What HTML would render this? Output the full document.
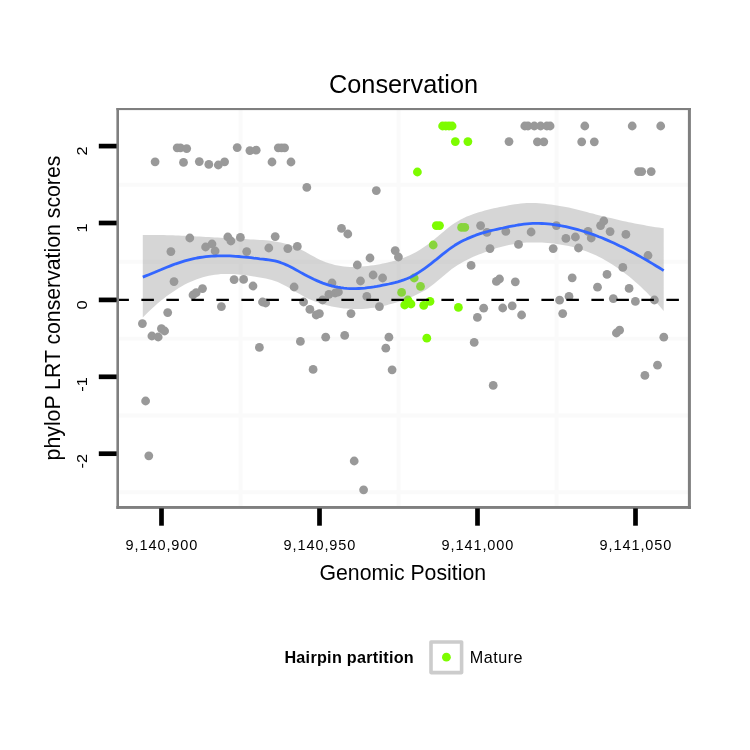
<!DOCTYPE html>
<html><head><meta charset="utf-8"><title>Conservation</title>
<style>
html,body{margin:0;padding:0;background:#fff;}
body{width:750px;height:750px;overflow:hidden;}
svg{display:block;}
text{font-family:"Liberation Sans",sans-serif;fill:#000;}
.ax{font-size:14.5px;letter-spacing:0.9px;}
.ay{font-size:14.6px;}
.lab{font-size:21.25px;}
.ttl{font-size:25.3px;}
.leg{font-size:16.2px;letter-spacing:0.5px;}
.legt{font-size:16.2px;font-weight:bold;letter-spacing:0.27px;}
</style></head><body>
<svg width="750" height="750" viewBox="0 0 750 750">
<rect x="0" y="0" width="750" height="750" fill="#ffffff"/>

<g stroke="#fafafa" stroke-width="3.9" fill="none">
<line x1="118" x2="689" y1="184.8" y2="184.8"/>
<line x1="118" x2="689" y1="261.7" y2="261.7"/>
<line x1="118" x2="689" y1="338.6" y2="338.6"/>
<line x1="118" x2="689" y1="415.5" y2="415.5"/>
<line x1="118" x2="689" y1="492.2" y2="492.2"/>
<line y1="109" y2="507" x1="240.6" x2="240.6"/>
<line y1="109" y2="507" x1="398.6" x2="398.6"/>
<line y1="109" y2="507" x1="556.6" x2="556.6"/>
</g>
<g fill="#999999">
<circle cx="142.4" cy="323.6" r="4.4"/>
<circle cx="145.6" cy="401.0" r="4.4"/>
<circle cx="148.8" cy="455.8" r="4.4"/>
<circle cx="151.9" cy="336.0" r="4.4"/>
<circle cx="155.1" cy="161.8" r="4.4"/>
<circle cx="158.2" cy="337.0" r="4.4"/>
<circle cx="161.4" cy="328.6" r="4.4"/>
<circle cx="164.6" cy="331.0" r="4.4"/>
<circle cx="167.7" cy="312.6" r="4.4"/>
<circle cx="170.9" cy="251.6" r="4.4"/>
<circle cx="174.0" cy="281.6" r="4.4"/>
<circle cx="177.2" cy="147.8" r="4.4"/>
<circle cx="180.4" cy="147.8" r="4.4"/>
<circle cx="183.5" cy="162.4" r="4.4"/>
<circle cx="186.7" cy="148.6" r="4.4"/>
<circle cx="189.8" cy="238.0" r="4.4"/>
<circle cx="193.0" cy="295.0" r="4.4"/>
<circle cx="196.2" cy="292.6" r="4.4"/>
<circle cx="199.3" cy="161.6" r="4.4"/>
<circle cx="202.5" cy="288.6" r="4.4"/>
<circle cx="205.6" cy="247.0" r="4.4"/>
<circle cx="208.8" cy="164.4" r="4.4"/>
<circle cx="212.0" cy="244.0" r="4.4"/>
<circle cx="215.1" cy="251.0" r="4.4"/>
<circle cx="218.3" cy="165.0" r="4.4"/>
<circle cx="221.4" cy="306.6" r="4.4"/>
<circle cx="224.6" cy="161.8" r="4.4"/>
<circle cx="227.8" cy="237.0" r="4.4"/>
<circle cx="230.9" cy="241.0" r="4.4"/>
<circle cx="234.1" cy="279.6" r="4.4"/>
<circle cx="237.2" cy="147.6" r="4.4"/>
<circle cx="240.4" cy="237.4" r="4.4"/>
<circle cx="243.6" cy="279.4" r="4.4"/>
<circle cx="246.7" cy="251.6" r="4.4"/>
<circle cx="249.9" cy="150.6" r="4.4"/>
<circle cx="253.0" cy="286.0" r="4.4"/>
<circle cx="256.2" cy="150.2" r="4.4"/>
<circle cx="259.4" cy="347.4" r="4.4"/>
<circle cx="262.5" cy="302.0" r="4.4"/>
<circle cx="265.7" cy="303.0" r="4.4"/>
<circle cx="268.8" cy="248.0" r="4.4"/>
<circle cx="272.0" cy="162.0" r="4.4"/>
<circle cx="275.2" cy="236.6" r="4.4"/>
<circle cx="278.3" cy="147.8" r="4.4"/>
<circle cx="281.5" cy="147.8" r="4.4"/>
<circle cx="284.6" cy="147.8" r="4.4"/>
<circle cx="287.8" cy="248.6" r="4.4"/>
<circle cx="291.0" cy="162.0" r="4.4"/>
<circle cx="294.1" cy="287.0" r="4.4"/>
<circle cx="297.3" cy="246.4" r="4.4"/>
<circle cx="300.4" cy="341.4" r="4.4"/>
<circle cx="303.6" cy="302.0" r="4.4"/>
<circle cx="306.8" cy="187.4" r="4.4"/>
<circle cx="309.9" cy="309.4" r="4.4"/>
<circle cx="313.1" cy="369.4" r="4.4"/>
<circle cx="316.2" cy="315.0" r="4.4"/>
<circle cx="319.4" cy="313.6" r="4.4"/>
<circle cx="322.6" cy="300.0" r="4.4"/>
<circle cx="325.7" cy="337.2" r="4.4"/>
<circle cx="328.9" cy="294.4" r="4.4"/>
<circle cx="332.0" cy="283.0" r="4.4"/>
<circle cx="335.2" cy="293.0" r="4.4"/>
<circle cx="338.4" cy="292.0" r="4.4"/>
<circle cx="341.5" cy="228.4" r="4.4"/>
<circle cx="344.7" cy="335.4" r="4.4"/>
<circle cx="347.8" cy="234.0" r="4.4"/>
<circle cx="351.0" cy="313.6" r="4.4"/>
<circle cx="354.2" cy="461.0" r="4.4"/>
<circle cx="357.3" cy="265.0" r="4.4"/>
<circle cx="360.5" cy="281.0" r="4.4"/>
<circle cx="363.6" cy="489.8" r="4.4"/>
<circle cx="366.8" cy="296.4" r="4.4"/>
<circle cx="370.0" cy="258.0" r="4.4"/>
<circle cx="373.1" cy="275.0" r="4.4"/>
<circle cx="376.3" cy="190.6" r="4.4"/>
<circle cx="379.4" cy="306.6" r="4.4"/>
<circle cx="382.6" cy="278.0" r="4.4"/>
<circle cx="385.8" cy="348.2" r="4.4"/>
<circle cx="388.9" cy="337.2" r="4.4"/>
<circle cx="392.1" cy="369.8" r="4.4"/>
<circle cx="395.2" cy="250.6" r="4.4"/>
<circle cx="398.4" cy="257.0" r="4.4"/>
<circle cx="471.1" cy="265.4" r="4.4"/>
<circle cx="474.2" cy="342.4" r="4.4"/>
<circle cx="477.4" cy="317.4" r="4.4"/>
<circle cx="480.6" cy="225.6" r="4.4"/>
<circle cx="483.7" cy="308.2" r="4.4"/>
<circle cx="486.9" cy="232.4" r="4.4"/>
<circle cx="490.0" cy="248.6" r="4.4"/>
<circle cx="493.2" cy="385.4" r="4.4"/>
<circle cx="496.4" cy="281.4" r="4.4"/>
<circle cx="499.5" cy="279.0" r="4.4"/>
<circle cx="502.7" cy="308.0" r="4.4"/>
<circle cx="505.8" cy="231.4" r="4.4"/>
<circle cx="509.0" cy="141.6" r="4.4"/>
<circle cx="512.2" cy="305.8" r="4.4"/>
<circle cx="515.3" cy="281.8" r="4.4"/>
<circle cx="518.5" cy="244.4" r="4.4"/>
<circle cx="521.6" cy="315.0" r="4.4"/>
<circle cx="524.8" cy="126.0" r="4.4"/>
<circle cx="528.0" cy="126.0" r="4.4"/>
<circle cx="531.1" cy="232.0" r="4.4"/>
<circle cx="534.3" cy="126.0" r="4.4"/>
<circle cx="537.4" cy="141.8" r="4.4"/>
<circle cx="540.6" cy="126.0" r="4.4"/>
<circle cx="543.8" cy="141.8" r="4.4"/>
<circle cx="546.9" cy="126.0" r="4.4"/>
<circle cx="550.1" cy="126.0" r="4.4"/>
<circle cx="553.2" cy="248.6" r="4.4"/>
<circle cx="556.4" cy="225.6" r="4.4"/>
<circle cx="559.6" cy="300.2" r="4.4"/>
<circle cx="562.7" cy="313.6" r="4.4"/>
<circle cx="565.9" cy="238.4" r="4.4"/>
<circle cx="569.0" cy="296.4" r="4.4"/>
<circle cx="572.2" cy="277.8" r="4.4"/>
<circle cx="575.4" cy="237.0" r="4.4"/>
<circle cx="578.5" cy="248.0" r="4.4"/>
<circle cx="581.7" cy="141.8" r="4.4"/>
<circle cx="584.8" cy="126.0" r="4.4"/>
<circle cx="588.0" cy="231.4" r="4.4"/>
<circle cx="591.2" cy="238.0" r="4.4"/>
<circle cx="594.3" cy="141.8" r="4.4"/>
<circle cx="597.5" cy="287.2" r="4.4"/>
<circle cx="600.6" cy="225.6" r="4.4"/>
<circle cx="603.8" cy="221.0" r="4.4"/>
<circle cx="607.0" cy="274.4" r="4.4"/>
<circle cx="610.1" cy="231.6" r="4.4"/>
<circle cx="613.3" cy="298.6" r="4.4"/>
<circle cx="616.4" cy="333.0" r="4.4"/>
<circle cx="619.6" cy="330.2" r="4.4"/>
<circle cx="622.8" cy="267.4" r="4.4"/>
<circle cx="625.9" cy="234.4" r="4.4"/>
<circle cx="629.1" cy="288.4" r="4.4"/>
<circle cx="632.2" cy="126.0" r="4.4"/>
<circle cx="635.4" cy="301.4" r="4.4"/>
<circle cx="638.6" cy="171.6" r="4.4"/>
<circle cx="641.7" cy="171.6" r="4.4"/>
<circle cx="644.9" cy="375.4" r="4.4"/>
<circle cx="648.0" cy="255.5" r="4.4"/>
<circle cx="651.2" cy="171.6" r="4.4"/>
<circle cx="654.4" cy="300.0" r="4.4"/>
<circle cx="657.5" cy="365.2" r="4.4"/>
<circle cx="660.7" cy="126.0" r="4.4"/>
<circle cx="663.8" cy="337.2" r="4.4"/>
</g><g fill="#7dfc00">
<circle cx="401.6" cy="292.4" r="4.4"/>
<circle cx="404.7" cy="305.0" r="4.4"/>
<circle cx="407.9" cy="300.0" r="4.4"/>
<circle cx="411.0" cy="304.0" r="4.4"/>
<circle cx="414.2" cy="278.0" r="4.4"/>
<circle cx="417.4" cy="172.0" r="4.4"/>
<circle cx="420.5" cy="286.4" r="4.4"/>
<circle cx="423.7" cy="305.4" r="4.4"/>
<circle cx="426.8" cy="338.2" r="4.4"/>
<circle cx="430.0" cy="301.4" r="4.4"/>
<circle cx="433.2" cy="245.0" r="4.4"/>
<circle cx="436.3" cy="225.6" r="4.4"/>
<circle cx="439.5" cy="225.6" r="4.4"/>
<circle cx="442.6" cy="126.0" r="4.4"/>
<circle cx="445.8" cy="126.0" r="4.4"/>
<circle cx="449.0" cy="126.0" r="4.4"/>
<circle cx="452.1" cy="126.0" r="4.4"/>
<circle cx="455.3" cy="141.6" r="4.4"/>
<circle cx="458.4" cy="307.4" r="4.4"/>
<circle cx="461.6" cy="227.4" r="4.4"/>
<circle cx="464.8" cy="227.4" r="4.4"/>
<circle cx="467.9" cy="141.6" r="4.4"/>
</g>
<path d="M142.8 235.0 L145.8 235.0 L148.8 235.0 L151.8 235.0 L154.8 235.0 L157.8 235.0 L160.8 235.1 L163.8 235.1 L166.8 235.2 L169.8 235.3 L172.8 235.3 L175.8 235.4 L178.8 235.6 L181.8 235.7 L184.8 235.8 L187.8 235.9 L190.8 236.1 L193.8 236.2 L196.8 236.4 L199.8 236.5 L202.8 236.7 L205.8 236.9 L208.8 237.0 L211.8 237.2 L214.8 237.4 L217.8 237.5 L220.8 237.7 L223.8 237.9 L226.8 238.1 L229.8 238.2 L232.8 238.4 L235.8 238.6 L238.8 238.8 L241.8 238.9 L244.8 239.1 L247.8 239.2 L250.8 239.4 L253.8 239.5 L256.8 239.7 L259.8 239.9 L262.8 240.1 L265.8 240.3 L268.8 240.6 L271.8 241.0 L274.8 241.4 L277.8 241.9 L280.8 242.5 L283.8 243.2 L286.8 244.0 L289.8 244.9 L292.8 246.0 L295.8 247.2 L298.8 248.6 L301.8 250.1 L304.8 251.6 L307.8 253.3 L310.8 254.9 L313.8 256.6 L316.8 258.2 L319.8 259.7 L322.8 261.0 L325.8 262.2 L328.8 263.2 L331.8 264.1 L334.8 264.9 L337.8 265.6 L340.8 266.1 L343.8 266.5 L346.8 266.7 L349.8 266.9 L352.8 266.9 L355.8 266.9 L358.8 266.8 L361.8 266.6 L364.8 266.3 L367.8 266.0 L370.8 265.6 L373.8 265.2 L376.8 264.7 L379.8 264.2 L382.8 263.6 L385.8 263.0 L388.8 262.3 L391.8 261.5 L394.8 260.7 L397.8 259.8 L400.8 258.8 L403.8 257.7 L406.8 256.5 L409.8 255.2 L412.8 253.7 L415.8 252.2 L418.8 250.5 L421.8 248.6 L424.8 246.6 L427.8 244.5 L430.8 242.2 L433.8 239.7 L436.8 237.2 L439.8 234.7 L442.8 232.2 L445.8 229.7 L448.8 227.3 L451.8 225.1 L454.8 223.1 L457.8 221.2 L460.8 219.5 L463.8 218.0 L466.8 216.6 L469.8 215.4 L472.8 214.3 L475.8 213.2 L478.8 212.3 L481.8 211.4 L484.8 210.5 L487.8 209.8 L490.8 209.0 L493.8 208.3 L496.8 207.7 L499.8 207.1 L502.8 206.5 L505.8 205.9 L508.8 205.3 L511.8 204.8 L514.8 204.3 L517.8 203.9 L520.8 203.5 L523.8 203.2 L526.8 203.0 L529.8 203.0 L532.8 203.0 L535.8 203.1 L538.8 203.3 L541.8 203.5 L544.8 203.8 L547.8 204.2 L550.8 204.6 L553.8 205.0 L556.8 205.4 L559.8 205.9 L562.8 206.4 L565.8 207.0 L568.8 207.6 L571.8 208.3 L574.8 209.0 L577.8 209.8 L580.8 210.6 L583.8 211.3 L586.8 212.1 L589.8 212.9 L592.8 213.6 L595.8 214.4 L598.8 215.2 L601.8 215.9 L604.8 216.6 L607.8 217.4 L610.8 218.1 L613.8 218.8 L616.8 219.5 L619.8 220.2 L622.8 220.9 L625.8 221.5 L628.8 222.2 L631.8 222.8 L634.8 223.4 L637.8 224.0 L640.8 224.6 L643.8 225.1 L646.8 225.7 L649.8 226.2 L652.8 226.7 L655.8 227.2 L658.8 227.6 L661.8 228.0 L663.7 228.3 L663.7 310.9 L661.8 308.7 L658.8 305.3 L655.8 302.0 L652.8 298.8 L649.8 295.7 L646.8 292.6 L643.8 289.7 L640.8 286.8 L637.8 284.1 L634.8 281.4 L631.8 278.8 L628.8 276.3 L625.8 274.0 L622.8 271.7 L619.8 269.5 L616.8 267.4 L613.8 265.4 L610.8 263.5 L607.8 261.7 L604.8 259.9 L601.8 258.3 L598.8 256.8 L595.8 255.3 L592.8 254.0 L589.8 252.7 L586.8 251.5 L583.8 250.4 L580.8 249.4 L577.8 248.5 L574.8 247.6 L571.8 246.8 L568.8 246.1 L565.8 245.5 L562.8 244.9 L559.8 244.4 L556.8 243.9 L553.8 243.5 L550.8 243.2 L547.8 242.9 L544.8 242.7 L541.8 242.6 L538.8 242.5 L535.8 242.4 L532.8 242.4 L529.8 242.5 L526.8 242.6 L523.8 242.8 L520.8 243.1 L517.8 243.4 L514.8 243.9 L511.8 244.4 L508.8 245.0 L505.8 245.7 L502.8 246.4 L499.8 247.2 L496.8 248.1 L493.8 249.1 L490.8 250.1 L487.8 251.2 L484.8 252.3 L481.8 253.4 L478.8 254.6 L475.8 255.8 L472.8 257.1 L469.8 258.5 L466.8 259.9 L463.8 261.5 L460.8 263.2 L457.8 265.0 L454.8 267.0 L451.8 269.1 L448.8 271.4 L445.8 273.9 L442.8 276.4 L439.8 278.9 L436.8 281.5 L433.8 283.9 L430.8 286.2 L427.8 288.4 L424.8 290.4 L421.8 292.1 L418.8 293.6 L415.8 295.0 L412.8 296.4 L409.8 297.6 L406.8 298.8 L403.8 299.9 L400.8 301.0 L397.8 302.0 L394.8 303.0 L391.8 303.8 L388.8 304.6 L385.8 305.4 L382.8 306.1 L379.8 306.7 L376.8 307.2 L373.8 307.7 L370.8 308.1 L367.8 308.4 L364.8 308.7 L361.8 308.9 L358.8 309.0 L355.8 309.0 L352.8 309.0 L349.8 308.8 L346.8 308.6 L343.8 308.4 L340.8 308.0 L337.8 307.6 L334.8 307.0 L331.8 306.4 L328.8 305.7 L325.8 305.0 L322.8 304.1 L319.8 303.2 L316.8 302.1 L313.8 301.0 L310.8 299.7 L307.8 298.4 L304.8 296.9 L301.8 295.3 L298.8 293.6 L295.8 291.9 L292.8 290.1 L289.8 288.3 L286.8 286.6 L283.8 285.0 L280.8 283.5 L277.8 282.1 L274.8 281.0 L271.8 280.1 L268.8 279.3 L265.8 278.6 L262.8 278.0 L259.8 277.5 L256.8 276.9 L253.8 276.4 L250.8 276.0 L247.8 275.5 L244.8 275.1 L241.8 274.8 L238.8 274.5 L235.8 274.2 L232.8 274.1 L229.8 274.0 L226.8 273.9 L223.8 274.0 L220.8 274.1 L217.8 274.4 L214.8 274.7 L211.8 275.2 L208.8 275.7 L205.8 276.4 L202.8 277.3 L199.8 278.2 L196.8 279.2 L193.8 280.4 L190.8 281.7 L187.8 283.1 L184.8 284.6 L181.8 286.3 L178.8 288.0 L175.8 289.9 L172.8 291.9 L169.8 293.9 L166.8 296.1 L163.8 298.4 L160.8 300.8 L157.8 303.3 L154.8 306.0 L151.8 308.7 L148.8 311.5 L145.8 314.5 L142.8 317.5 Z" fill="#999999" fill-opacity="0.4" stroke="none"/>
<path d="M142.8 277.1 L145.8 275.9 L148.8 274.7 L151.8 273.5 L154.8 272.3 L157.8 271.0 L160.8 269.8 L163.8 268.5 L166.8 267.3 L169.8 266.1 L172.8 264.9 L175.8 263.8 L178.8 262.8 L181.8 261.8 L184.8 260.9 L187.8 260.1 L190.8 259.3 L193.8 258.6 L196.8 258.0 L199.8 257.5 L202.8 257.1 L205.8 256.7 L208.8 256.4 L211.8 256.1 L214.8 256.0 L217.8 255.8 L220.8 255.8 L223.8 255.8 L226.8 255.8 L229.8 255.9 L232.8 256.1 L235.8 256.3 L238.8 256.5 L241.8 256.8 L244.8 257.1 L247.8 257.4 L250.8 257.7 L253.8 258.1 L256.8 258.4 L259.8 258.8 L262.8 259.1 L265.8 259.5 L268.8 259.9 L271.8 260.4 L274.8 260.9 L277.8 261.7 L280.8 262.7 L283.8 263.8 L286.8 265.1 L289.8 266.5 L292.8 268.1 L295.8 269.7 L298.8 271.4 L301.8 273.1 L304.8 274.7 L307.8 276.3 L310.8 277.8 L313.8 279.3 L316.8 280.6 L319.8 281.9 L322.8 283.1 L325.8 284.1 L328.8 285.1 L331.8 285.9 L334.8 286.6 L337.8 287.2 L340.8 287.7 L343.8 288.1 L346.8 288.4 L349.8 288.6 L352.8 288.7 L355.8 288.7 L358.8 288.5 L361.8 288.3 L364.8 288.1 L367.8 287.7 L370.8 287.3 L373.8 286.9 L376.8 286.4 L379.8 285.8 L382.8 285.2 L385.8 284.6 L388.8 284.0 L391.8 283.3 L394.8 282.6 L397.8 281.8 L400.8 280.9 L403.8 279.9 L406.8 278.8 L409.8 277.5 L412.8 275.9 L415.8 274.3 L418.8 272.4 L421.8 270.4 L424.8 268.3 L427.8 266.1 L430.8 263.8 L433.8 261.4 L436.8 259.1 L439.8 256.6 L442.8 254.2 L445.8 251.8 L448.8 249.5 L451.8 247.3 L454.8 245.3 L457.8 243.5 L460.8 241.8 L463.8 240.3 L466.8 238.9 L469.8 237.6 L472.8 236.4 L475.8 235.2 L478.8 234.2 L481.8 233.2 L484.8 232.3 L487.8 231.5 L490.8 230.7 L493.8 230.0 L496.8 229.3 L499.8 228.6 L502.8 228.0 L505.8 227.3 L508.8 226.7 L511.8 226.1 L514.8 225.6 L517.8 225.0 L520.8 224.6 L523.8 224.2 L526.8 223.8 L529.8 223.6 L532.8 223.4 L535.8 223.4 L538.8 223.4 L541.8 223.5 L544.8 223.7 L547.8 223.9 L550.8 224.2 L553.8 224.6 L556.8 225.0 L559.8 225.5 L562.8 226.1 L565.8 226.7 L568.8 227.4 L571.8 228.1 L574.8 228.8 L577.8 229.6 L580.8 230.5 L583.8 231.4 L586.8 232.4 L589.8 233.4 L592.8 234.4 L595.8 235.5 L598.8 236.7 L601.8 237.8 L604.8 239.1 L607.8 240.4 L610.8 241.7 L613.8 243.0 L616.8 244.4 L619.8 245.9 L622.8 247.3 L625.8 248.8 L628.8 250.4 L631.8 252.0 L634.8 253.6 L637.8 255.2 L640.8 256.9 L643.8 258.6 L646.8 260.3 L649.8 262.1 L652.8 263.9 L655.8 265.7 L658.8 267.5 L661.8 269.4 L663.7 270.6" fill="none" stroke="#3366ff" stroke-width="2.8" stroke-linejoin="round"/>
<line x1="116.4" x2="689" y1="299.8" y2="299.8" stroke="#000" stroke-width="2.2" stroke-dasharray="12.5 12.5"/>
<g fill="#7f7f7f"><rect x="116.4" y="108" width="2.6" height="400.9"/><rect x="116.4" y="108" width="574.5" height="2.1"/><rect x="687.9" y="108" width="3" height="400.9"/><rect x="116.4" y="506" width="574.5" height="2.9"/></g>
<g stroke="#000" stroke-width="4.7">
<line x1="161.5" x2="161.5" y1="508.4" y2="525.7"/>
<line x1="319.5" x2="319.5" y1="508.4" y2="525.7"/>
<line x1="477.5" x2="477.5" y1="508.4" y2="525.7"/>
<line x1="635.5" x2="635.5" y1="508.4" y2="525.7"/>
<line x1="98.8" x2="116.6" y1="146.1" y2="146.1"/>
<line x1="98.8" x2="116.6" y1="223.0" y2="223.0"/>
<line x1="98.8" x2="116.6" y1="299.9" y2="299.9"/>
<line x1="98.8" x2="116.6" y1="376.8" y2="376.8"/>
<line x1="98.8" x2="116.6" y1="453.7" y2="453.7"/>
</g>
<text class="ax" x="161.9" y="550.2" text-anchor="middle">9,140,900</text>
<text class="ax" x="319.9" y="550.2" text-anchor="middle">9,140,950</text>
<text class="ax" x="477.9" y="550.2" text-anchor="middle">9,141,000</text>
<text class="ax" x="635.9" y="550.2" text-anchor="middle">9,141,050</text>
<text class="ay" transform="translate(87,146.3) rotate(-90) scale(1.12,1)" text-anchor="end">2</text>
<text class="ay" transform="translate(87,223.3) rotate(-90) scale(1.12,1)" text-anchor="end">1</text>
<text class="ay" transform="translate(87,300.3) rotate(-90) scale(1.12,1)" text-anchor="end">0</text>
<text class="ay" transform="translate(87,377.1) rotate(-90) scale(1.12,1)" text-anchor="end">-1</text>
<text class="ay" transform="translate(87,454.0) rotate(-90) scale(1.12,1)" text-anchor="end">-2</text>
<text class="ttl" x="403.5" y="93.2" text-anchor="middle">Conservation</text>
<text class="lab" x="402.8" y="579.6" text-anchor="middle">Genomic Position</text>
<text class="lab" transform="translate(60,308) rotate(-90)" text-anchor="middle">phyloP LRT conservation scores</text>
<text class="legt" x="284.4" y="662.5">Hairpin partition</text>
<rect x="431" y="642" width="30.6" height="30.6" fill="#fff" stroke="#cccccc" stroke-width="3.6" stroke-linejoin="round"/>
<circle cx="446.4" cy="657.2" r="4.4" fill="#7dfc00"/>
<text class="leg" x="469.7" y="662.5">Mature</text>
</svg></body></html>
